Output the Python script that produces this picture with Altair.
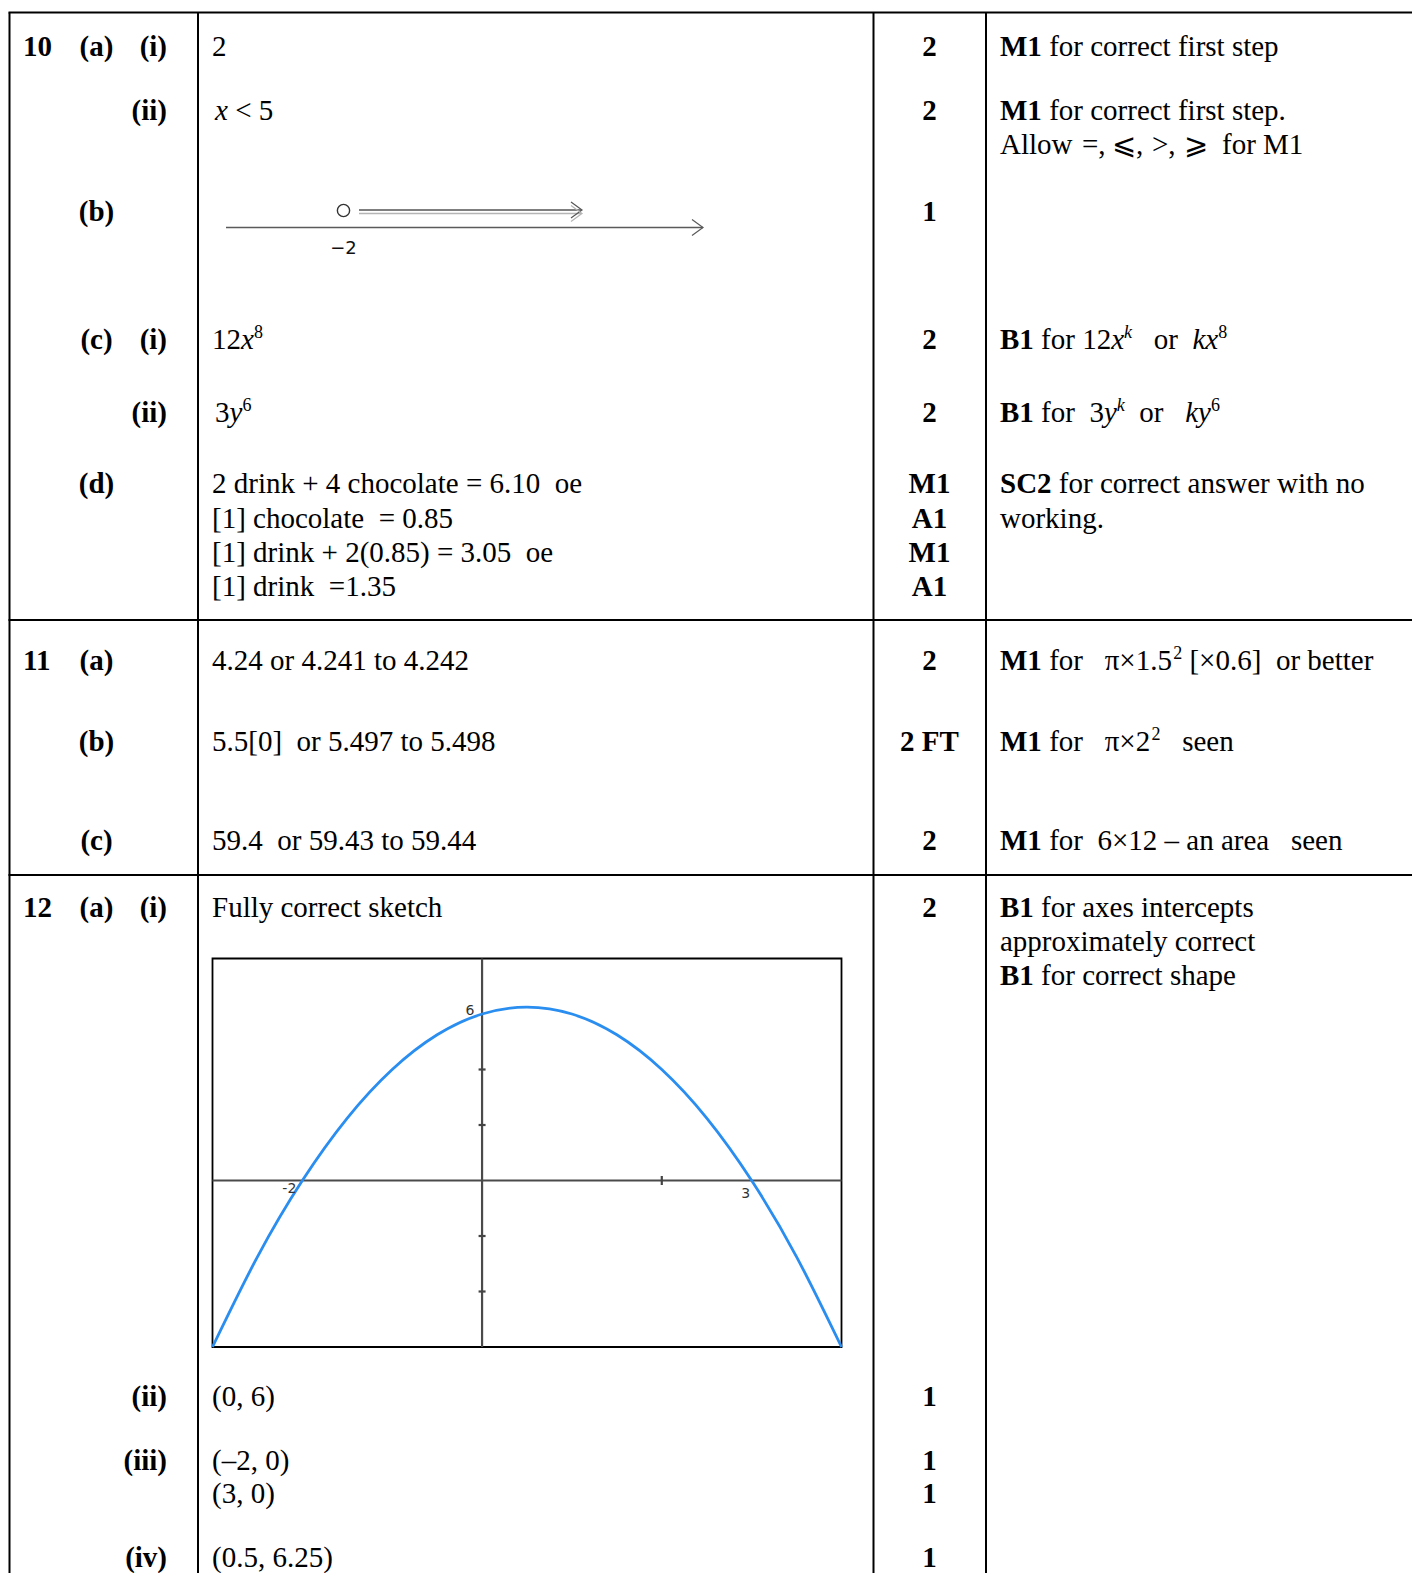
import altair as alt
import pandas as pd

# ---------------- fonts, sizes, page ----------------
SERIF = "Liberation Serif"
SANS = "DejaVu Sans"
F = 29          # body text size
S = 18          # superscript size
SUP_DY = -7     # superscript raise
MARGIN = 8
W = 1404
H = 1565

# ---------------- table grid (page px) ----------------
grid_v_x = [9.5, 198, 873.5, 986]
grid_h_y = [12.5, 620, 875]
grid_top, grid_bottom = 12.5, 1600
grid_left, grid_right = 8.5, 1440

# ---------------- column anchors ----------------
x_qnum, x_part, x_sub, x_mark, x_guid, x_ans = 23, 96.5, 167, 929.5, 1000, 212

# ---------------- left column ----------------
qnums = ["10", "11", "12"]
qnums_y = [47, 661, 908]
parts = ["(a)", "(b)", "(c)", "(d)", "(a)", "(b)", "(c)", "(a)"]
parts_y = [47, 212, 340, 484, 661, 742, 841, 908]
subs = ["(i)", "(ii)", "(i)", "(ii)", "(i)", "(ii)", "(iii)", "(iv)"]
subs_y = [47, 111, 340, 413, 908, 1397, 1460.5, 1557.5]

# ---------------- marks column ----------------
marks = ["2", "2", "1", "2", "2", "M1", "A1", "M1", "A1", "2", "2 FT", "2", "2", "1", "1", "1", "1"]
marks_y = [47, 111, 212, 340, 413, 484, 518.5, 553, 587, 661, 742, 841, 908, 1397, 1460.5, 1494, 1557.5]

# ---------------- answers (runs: text, style[, x]) ----------------
answers = [
    (47, [("2", "r", x_ans)]),
    (111, [("x", "i", 215), (" < 5", "r")]),
    (340, [("12", "r", x_ans), ("x", "i"), ("8", "rs")]),
    (413, [("3", "r", 215), ("y", "i"), ("6", "rs")]),
    (484, [("2 drink + 4 chocolate = 6.10  oe", "r", x_ans)]),
    (518.5, [("[1] chocolate  = 0.85", "r", x_ans)]),
    (553, [("[1] drink + 2(0.85) = 3.05  oe", "r", x_ans)]),
    (587, [("[1] drink  =1.35", "r", x_ans)]),
    (661, [("4.24 or 4.241 to 4.242", "r", x_ans)]),
    (742, [("5.5[0]  or 5.497 to 5.498", "r", x_ans)]),
    (841, [("59.4  or 59.43 to 59.44", "r", x_ans)]),
    (908, [("Fully correct sketch", "r", x_ans)]),
    (1397, [("(0, 6)", "r", x_ans)]),
    (1460.5, [("(–2, 0)", "r", x_ans)]),
    (1494, [("(3, 0)", "r", x_ans)]),
    (1557.5, [("(0.5, 6.25)", "r", x_ans)]),
]

# ---------------- guidance ----------------
guidance = [
    (47, [("M1", "b", x_guid), (" for correct first step", "r")]),
    (111, [("M1", "b", x_guid), (" for correct first step.", "r")]),
    (145, [("Allow", "r", x_guid), ("=,", "r", 1082), ("⩽,", "r", 1112), (">,", "r", 1152),
           ("⩾", "r", 1184), ("for M1", "r", 1222)]),
    (340, [("B1", "b", x_guid), (" for 12", "r"), ("x", "i"), ("k", "is"), ("   or  ", "r"),
           ("kx", "i"), ("8", "rs")]),
    (413, [("B1", "b", x_guid), (" for  3", "r"), ("y", "i"), ("k", "is"), ("  or   ", "r"),
           ("ky", "i"), ("6", "rs")]),
    (484, [("SC2", "b", x_guid), (" for correct answer with no", "r")]),
    (518.5, [("working.", "r", x_guid)]),
    (661, [("M1", "b", x_guid), (" for   π×1.5", "r"), ("2", "rs"), (" [×0.6]  or better", "r")]),
    (742, [("M1", "b", x_guid), (" for   π×2", "r"), ("2", "rs"), ("   seen", "r")]),
    (841, [("M1", "b", x_guid), (" for  6×12 – an area   seen", "r")]),
    (908, [("B1", "b", x_guid), (" for axes intercepts", "r")]),
    (942, [("approximately correct", "r", x_guid)]),
    (976, [("B1", "b", x_guid), (" for correct shape", "r")]),
]

# ---------------- number line (page px) ----------------
nl_main_x = [226, 703]
nl_main_y = 227.5
nl_ray_x = [359, 581]
nl_ray_y = [210, 213.5]
nl_ray_colors = ["#555555", "#b5b5b5"]
nl_circle = (343.5, 210.5)
nl_label = ("−2", 343.5, 249)

# ---------------- sketch of the parabola ----------------
sketch_x_domain = [-3, 4]
sketch_y_domain = [-6, 8]
sketch_box_px = [212.5, 841.5]     # page px of x domain
sketch_box_py = [1347, 958.5]      # page px of y domain
curve_x = [-3, -2.5, -2, -1.5, -1, -0.5, 0, 0.5, 1, 1.5, 2, 2.5, 3, 3.5, 4]
curve_y = [-6, -2.75, 0, 2.25, 4, 5.25, 6, 6.25, 6, 5.25, 4, 2.25, 0, -2.75, -6]
y_ticks = [-4, -2, 2, 4]
x_ticks = [2]
sketch_labels = [("6", 0, 6, -12, -3), ("-2", -2, 0, -13, 8), ("3", 3, 0, -6, 13)]

# ---------------- glyph advance widths (Times metrics, per 1000 em) ----------------
REG = {" ": 250, "(": 333, ")": 333, "+": 564, ",": 250, ".": 250, "<": 564, "=": 564, ">": 564,
       "[": 333, "]": 333, "×": 564, "–": 500, "−": 564, "π": 549,
       "A": 722, "B": 667, "C": 667, "F": 556, "M": 889, "S": 556, "T": 611,
       "a": 444, "b": 500, "c": 444, "d": 500, "e": 444, "f": 333, "g": 500, "h": 500, "i": 278,
       "k": 500, "l": 278, "m": 778, "n": 500, "o": 500, "p": 500, "r": 333, "s": 389, "t": 278,
       "u": 500, "v": 500, "w": 722, "x": 500, "y": 500}
for d in "0123456789":
    REG[d] = 500
BOLD = {" ": 250, "(": 333, ")": 333, "A": 722, "B": 667, "C": 722, "F": 611, "M": 944, "S": 556,
        "T": 667, "a": 500, "b": 556, "c": 444, "d": 556, "i": 278, "v": 500}
for d in "0123456789":
    BOLD[d] = 500
ITAL = {"k": 444, "x": 444, "y": 444}


def run_width(text, style):
    table = {"r": REG, "rs": REG, "b": BOLD, "i": ITAL, "is": ITAL}[style]
    size = S if style in ("rs", "is") else F
    return sum(table.get(c, 500) for c in text) * size / 1000.0


records = []


def add(x, y, text, layer):
    records.append({"x": x, "y": y, "text": text.replace(" ", "\u00a0"), "layer": layer})


for t, y in zip(qnums, qnums_y):
    add(x_qnum, y, t, "bold_left")
for t, y in zip(parts, parts_y):
    add(x_part, y, t, "bold_center")
for t, y in zip(subs, subs_y):
    add(x_sub, y, t, "bold_right")
for t, y in zip(marks, marks_y):
    add(x_mark, y, t, "bold_center")

layer_of = {"r": "reg", "b": "bold_left", "i": "ital", "rs": "sup_reg", "is": "sup_ital"}
for y, runs in answers + guidance:
    cx = None
    for run in runs:
        text, style = run[0], run[1]
        if len(run) > 2:
            cx = run[2]
        lead = len(text) - len(text.lstrip(" "))
        shown = text.lstrip(" ")
        x_at = cx + run_width(" " * lead, style)
        add(x_at, y, shown, layer_of[style])
        cx += run_width(text, style)

recs = pd.DataFrame(records)

# ---------------- scales ----------------
page_x = alt.Scale(domain=[MARGIN, MARGIN + W], range=[0, W], nice=False, zero=False)
page_y = alt.Scale(domain=[MARGIN, MARGIN + H], range=[0, H], nice=False, zero=False)


def PX(f):
    return alt.X(f, type="quantitative", scale=page_x, axis=None)


def PY(f):
    return alt.Y(f, type="quantitative", scale=page_y, axis=None)


def text_layer(layer, weight="normal", style="normal", size=F, align="left", dy=0):
    df = recs[recs["layer"] == layer]
    return alt.Chart(df).mark_text(
        font=SERIF, fontSize=size, fontWeight=weight, fontStyle=style, align=align,
        baseline="middle", dy=dy, color="black"
    ).encode(x=PX("x"), y=PY("y"), text="text:N")


# grid
v_df = pd.DataFrame({"x": grid_v_x, "y1": [grid_top] * 4, "y2": [grid_bottom] * 4})
h_df = pd.DataFrame({"y": grid_h_y, "x1": [grid_left] * 3, "x2": [grid_right] * 3})
v_rules = alt.Chart(v_df).mark_rule(color="black", strokeWidth=2).encode(
    x=PX("x"), y=PY("y1"), y2=alt.Y2("y2:Q"))
h_rules = alt.Chart(h_df).mark_rule(color="black", strokeWidth=2).encode(
    y=PY("y"), x=PX("x1"), x2=alt.X2("x2:Q"))

# number line
nl_df = pd.DataFrame({"x1": [nl_main_x[0], nl_ray_x[0], nl_ray_x[0]],
                      "x2": [nl_main_x[1], nl_ray_x[1], nl_ray_x[1]],
                      "y": [nl_main_y, nl_ray_y[0], nl_ray_y[1]],
                      "c": ["#5a5a5a", nl_ray_colors[0], nl_ray_colors[1]]})
nl_lines = alt.Chart(nl_df).mark_rule(strokeWidth=1.3).encode(
    x=PX("x1"), x2=alt.X2("x2:Q"), y=PY("y"), color=alt.Color("c:N", scale=None, legend=None))
head_df = pd.DataFrame({"x": [nl_main_x[1], nl_ray_x[1] + 1, nl_ray_x[1] + 1],
                        "y": [nl_main_y, nl_ray_y[0], nl_ray_y[1]],
                        "c": ["#5a5a5a", nl_ray_colors[0], nl_ray_colors[1]]})
heads = alt.Chart(head_df).mark_point(
    shape="M-1,-0.73L0,0L-1,0.73", filled=False, size=484, strokeWidth=1.2, opacity=1
).encode(x=PX("x"), y=PY("y"), color=alt.Color("c:N", scale=None, legend=None))
circ_df = pd.DataFrame({"x": [nl_circle[0]], "y": [nl_circle[1]]})
circle = alt.Chart(circ_df).mark_point(
    shape="circle", filled=False, size=150, strokeWidth=1.4, color="#333333", opacity=1
).encode(x=PX("x"), y=PY("y"))
nl_lab_df = pd.DataFrame({"x": [nl_label[1]], "y": [nl_label[2]], "text": [nl_label[0]]})
nl_lab = alt.Chart(nl_lab_df).mark_text(
    font=SANS, fontSize=18, align="center", baseline="middle", color="#111111"
).encode(x=PX("x"), y=PY("y"), text="text:N")

table = alt.layer(
    v_rules, h_rules,
    text_layer("bold_left", weight="bold"),
    text_layer("bold_center", weight="bold", align="center"),
    text_layer("bold_right", weight="bold", align="right"),
    text_layer("reg"),
    text_layer("ital", style="italic"),
    text_layer("sup_reg", size=S, dy=SUP_DY),
    text_layer("sup_ital", style="italic", size=S, dy=SUP_DY),
    nl_lines, heads, circle, nl_lab,
)

# ---------------- sketch group (own scales) ----------------
sx = alt.Scale(domain=sketch_x_domain, range=[p - MARGIN for p in sketch_box_px], nice=False, zero=False)
sy = alt.Scale(domain=sketch_y_domain, range=[p - MARGIN for p in sketch_box_py], nice=False, zero=False)


def SX(f):
    return alt.X(f, type="quantitative", scale=sx, axis=None)


def SY(f):
    return alt.Y(f, type="quantitative", scale=sy, axis=None)


box_df = pd.DataFrame({"x1": [sketch_x_domain[0]], "x2": [sketch_x_domain[1]],
                       "y1": [sketch_y_domain[0]], "y2": [sketch_y_domain[1]]})
box = alt.Chart(box_df).mark_rect(fillOpacity=0, stroke="black", strokeWidth=1.8).encode(
    x=SX("x1"), x2=alt.X2("x2:Q"), y=SY("y1"), y2=alt.Y2("y2:Q"))
ax_df = pd.DataFrame({"x1": [sketch_x_domain[0], 0], "x2": [sketch_x_domain[1], 0],
                      "y1": [0, sketch_y_domain[0]], "y2": [0, sketch_y_domain[1]]})
axes_lines = alt.Chart(ax_df).mark_rule(color="#4a4a4a", strokeWidth=2.2).encode(
    x=SX("x1"), x2=alt.X2("x2:Q"), y=SY("y1"), y2=alt.Y2("y2:Q"))
yt_df = pd.DataFrame({"x": [0] * len(y_ticks), "y": y_ticks})
yt = alt.Chart(yt_df).mark_tick(orient="horizontal", size=7, thickness=2.2, color="#444444", opacity=1).encode(
    x=SX("x"), y=SY("y"))
xt_df = pd.DataFrame({"x": x_ticks, "y": [0] * len(x_ticks)})
xt = alt.Chart(xt_df).mark_tick(orient="vertical", size=9, thickness=2.2, color="#444444", opacity=1).encode(
    x=SX("x"), y=SY("y"))
curve_df = pd.DataFrame({"x": curve_x, "y": curve_y})
curve = alt.Chart(curve_df).mark_line(interpolate="natural", color="#2a8df0", strokeWidth=2.8).encode(
    x=SX("x"), y=SY("y"))

lab_layers = []
for t, lx, ly, ddx, ddy in sketch_labels:
    ldf = pd.DataFrame({"x": [lx], "y": [ly], "text": [t]})
    lab_layers.append(alt.Chart(ldf).mark_text(
        font="DejaVu Sans", fontSize=14, align="center", baseline="middle", dx=ddx, dy=ddy,
        color="#333333").encode(x=SX("x"), y=SY("y"), text="text:N"))

sketch = alt.layer(box, axes_lines, yt, xt, curve, *lab_layers)

chart = alt.layer(table, sketch).resolve_scale(x="independent", y="independent").properties(
    width=W, height=H, padding=0, autosize=alt.AutoSizeParams(type="none")
).configure_view(stroke=None)

chart.save("out.html", embed_options={"renderer": "svg", "actions": False})
